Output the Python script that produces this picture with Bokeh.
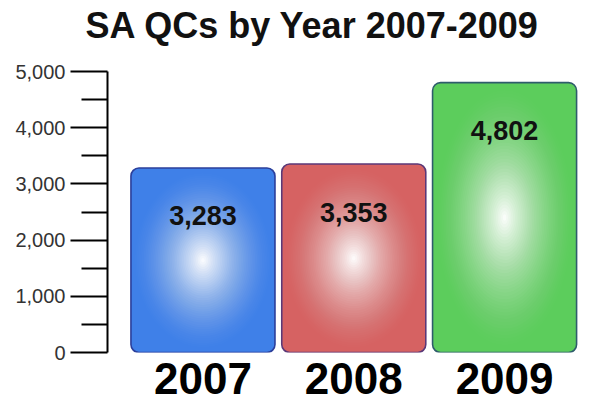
from bokeh.plotting import figure
from bokeh.models import ColumnDataSource, FixedTicker, NumeralTickFormatter, Range1d, Title
from bokeh.embed import file_html
from bokeh.resources import INLINE
from bokeh.core.properties import value

# ---- data ----
years = ["2007", "2008", "2009"]
counts = [3283, 3353, 4802]
y_ticks = [0, 1000, 2000, 3000, 4000, 5000]
y_minor_ticks = [500, 1500, 2500, 3500, 4500]
fill_colors = ["#3f80e8", "#d66262", "#5ccd5c"]
line_colors = ["#2b3f9b", "#5b3878", "#2e5c6b"]
title_text = "SA QCs by Year 2007-2009"

FONT = "Liberation Sans"
xs = list(range(len(years)))
bar_w = 0.955

p = figure(width=584, height=404,
           x_range=Range1d(-0.633, 2.53), y_range=Range1d(0, 5000),
           output_backend="svg", toolbar_location=None,
           min_border_left=107, min_border_right=0,
           min_border_top=71, min_border_bottom=52)

p.background_fill_color = "white"
p.border_fill_color = "white"
p.outline_line_color = None
p.grid.visible = False

# spacer between frame and title
p.add_layout(Title(text=" ", text_font_size="14px", standoff=2), "above")

# title
p.title.text = title_text
p.title.align = "left"
p.title.offset = -22
p.title.vertical_align = "top"
p.title.text_font = FONT
p.title.text_font_size = "36px"
p.title.text_font_style = "bold"
p.title.text_color = "#111111"
p.title.standoff = 8

# bars
src = ColumnDataSource(dict(x=xs, top=counts, fill=fill_colors, line=line_colors))
p.vbar(x="x", top="top", bottom=0, width=bar_w, source=src,
       fill_color="fill", line_color=None, border_radius=8)

# radial highlight (stacked translucent white ellipses inside each bar)
N = 40
max_scale = 0.97
def target(r):
    r = min(max(r, 0.0), 1.0)
    return 0.985 * (1.0 - r) ** 1.35

prev_keep = 1.0
for k in range(N, 0, -1):
    rk = k / N
    C = target((k - 0.5) / N)
    keep = 1.0 - C
    a = 1.0 - keep / prev_keep
    prev_keep = keep
    if a <= 0:
        continue
    lsrc = ColumnDataSource(dict(
        x=xs,
        y=[c / 2 for c in counts],
        w=[bar_w * max_scale * rk for _ in counts],
        h=[c * max_scale * rk for c in counts],
    ))
    p.ellipse(x="x", y="y", width="w", height="h", source=lsrc,
              fill_color="white", fill_alpha=a, line_color=None)

# bar outlines on top
p.vbar(x="x", top="top", bottom=0, width=bar_w, source=src,
       fill_color=None, line_color="line", line_width=1.6, border_radius=8)

# value labels
p.text(x=xs, y=counts, text=[f"{c:,}" for c in counts],
       y_offset=48, text_align="center", text_baseline="middle",
       text_font=value(FONT), text_font_style="bold",
       text_font_size="27px", text_color="#111111")

# y axis
ya = p.yaxis[0]
ya.ticker = FixedTicker(ticks=y_ticks, minor_ticks=y_minor_ticks)
ya.formatter = NumeralTickFormatter(format="0,0")
ya.axis_line_color = "black"
ya.axis_line_width = 2
ya.major_tick_line_color = "black"
ya.major_tick_line_width = 2
ya.major_tick_in = 0
ya.major_tick_out = 37
ya.minor_tick_line_color = "black"
ya.minor_tick_line_width = 2
ya.minor_tick_in = 0
ya.minor_tick_out = 26
ya.major_label_text_font = FONT
ya.major_label_text_font_size = "20px"
ya.major_label_text_color = "#333333"
ya.major_label_standoff = 5

# x axis (year labels)
xa = p.xaxis[0]
xa.ticker = FixedTicker(ticks=xs)
xa.major_label_overrides = {i: y for i, y in zip(xs, years)}
xa.axis_line_color = None
xa.major_tick_line_color = None
xa.minor_tick_line_color = None
xa.major_label_text_font = FONT
xa.major_label_text_font_size = "44px"
xa.major_label_text_font_style = "bold"
xa.major_label_text_color = "black"
xa.major_label_standoff = 4

open("out.html", "w").write(file_html(p, INLINE))
